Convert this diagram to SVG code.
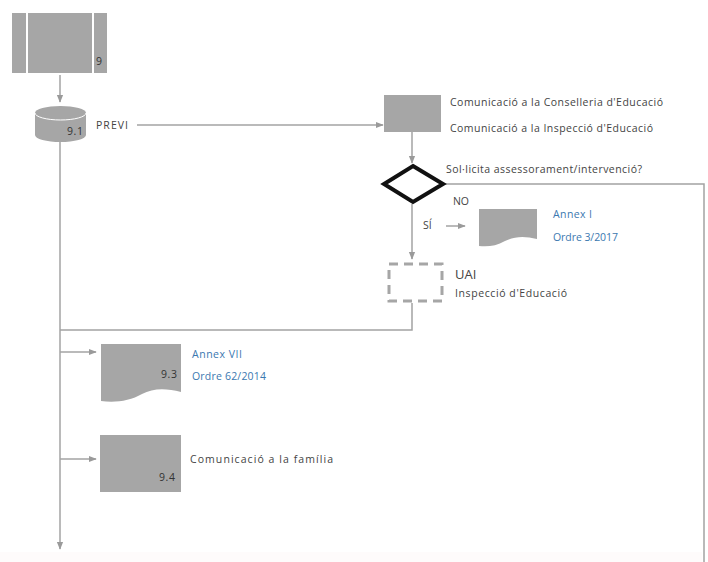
<svg xmlns="http://www.w3.org/2000/svg" width="708" height="562" viewBox="0 0 708 562">
<defs>
<marker id="ah" viewBox="0 0 10 10" refX="9" refY="5" markerWidth="8" markerHeight="8" markerUnits="userSpaceOnUse" orient="auto">
<path d="M0,1 L10,5 L0,9 Z" fill="#9a9a9a"/>
</marker>
</defs>
<style>
.ln{fill:none;stroke:#a3a3a3;stroke-width:1.5}
.sh{fill:#a6a6a6}
.t{font-family:"Open Sans","Liberation Sans",sans-serif;font-size:10.5px;fill:#444}
.b{font-family:"Open Sans","Liberation Sans",sans-serif;font-size:10.5px;fill:#3b78b0}
.n{font-family:"Open Sans","Liberation Sans",sans-serif;font-size:10.5px;fill:#333}
</style>
<rect x="0" y="0" width="708" height="562" fill="#ffffff"/>
<rect x="0" y="552" width="702" height="10" fill="#fefbfb"/>
<g id="connectors">
<line class="ln" x1="60" y1="75" x2="60" y2="102" marker-end="url(#ah)"/>
<line class="ln" x1="137" y1="125" x2="383" y2="125" marker-end="url(#ah)"/>
<line class="ln" x1="60" y1="142" x2="60" y2="549" marker-end="url(#ah)"/>
<line class="ln" x1="412" y1="132" x2="412" y2="163" marker-end="url(#ah)"/>
<polyline class="ln" points="444,184 704,184 704,562"/>
<line class="ln" x1="412" y1="204" x2="412" y2="259" marker-end="url(#ah)"/>
<line class="ln" x1="446" y1="226" x2="465" y2="226" marker-end="url(#ah)"/>
<polyline class="ln" points="412,303 412,330 60,330"/>
<line class="ln" x1="60" y1="352" x2="96" y2="352" marker-end="url(#ah)"/>
<line class="ln" x1="60" y1="459" x2="96" y2="459" marker-end="url(#ah)"/>
</g>
<g id="n9">
<rect class="sh" x="12" y="13" width="95" height="60"/>
<line x1="27" y1="13" x2="27" y2="73" stroke="#fff" stroke-width="2"/>
<line x1="93" y1="13" x2="93" y2="73" stroke="#fff" stroke-width="2"/>
<text class="n" x="96" y="65" font-size="12">9</text>
</g>
<g id="n91">
<path class="sh" d="M35,113 A25.5,7 0 0 1 86,113 V135 A25.5,7 0 0 1 35,135 Z"/>
<path d="M35,113 A25.5,7 0 0 0 86,113" fill="none" stroke="#fff" stroke-width="1"/>
<text class="n" x="67" y="135" textLength="16" lengthAdjust="spacing">9.1</text>
<text class="t" x="96" y="129" font-size="9" textLength="32" lengthAdjust="spacing">PREVI</text>
</g>
<g id="nCom">
<rect class="sh" x="384" y="95" width="57" height="37"/>
<text class="t" x="450" y="106" textLength="213" lengthAdjust="spacing">Comunicació a la Conselleria d'Educació</text>
<text class="t" x="450" y="132" textLength="203" lengthAdjust="spacing">Comunicació a la Inspecció d'Educació</text>
</g>
<g id="nDec">
<polygon points="413,166 443,184 413,202 384,184" fill="#fff" stroke="#111" stroke-width="4" stroke-linejoin="miter"/>
<text class="t" x="446" y="173" textLength="196" lengthAdjust="spacing">Sol·licita assessorament/intervenció?</text>
<text class="t" x="453" y="205" font-size="9" textLength="16" lengthAdjust="spacing">NO</text>
<text class="t" x="423" y="229" font-size="9">SÍ</text>
</g>
<g id="nAnnexI">
<path class="sh" d="M479,209 H537 V239 C525,236 515,236 505,241 C496,246 488,247 479,246 Z"/>
<text class="b" x="553" y="218" textLength="39" lengthAdjust="spacing">Annex I</text>
<text class="b" x="553" y="241" textLength="65" lengthAdjust="spacing">Ordre 3/2017</text>
</g>
<g id="nUAI">
<rect x="389" y="264" width="53" height="37" fill="none" stroke="#a6a6a6" stroke-width="3" stroke-dasharray="9,6"/>
<text x="455" y="279" font-family="'Open Sans','Liberation Sans',sans-serif" font-size="13" fill="#444">UAI</text>
<text class="t" x="455" y="297" textLength="112" lengthAdjust="spacing">Inspecció d'Educació</text>
</g>
<g id="n93">
<path class="sh" d="M101,344 H181 V392 C166,388 153,388 142,394 C130,401 115,403 101,401 Z"/>
<text class="n" x="161" y="378" textLength="16" lengthAdjust="spacing">9.3</text>
<text class="b" x="192" y="358" textLength="50" lengthAdjust="spacing">Annex VII</text>
<text class="b" x="192" y="380" textLength="74" lengthAdjust="spacing">Ordre 62/2014</text>
</g>
<g id="n94">
<rect class="sh" x="100" y="435" width="81" height="57"/>
<text class="n" x="159" y="481" textLength="16" lengthAdjust="spacing">9.4</text>
<text class="t" x="190" y="463" textLength="143" lengthAdjust="spacing">Comunicació a la família</text>
</g>
</svg>
